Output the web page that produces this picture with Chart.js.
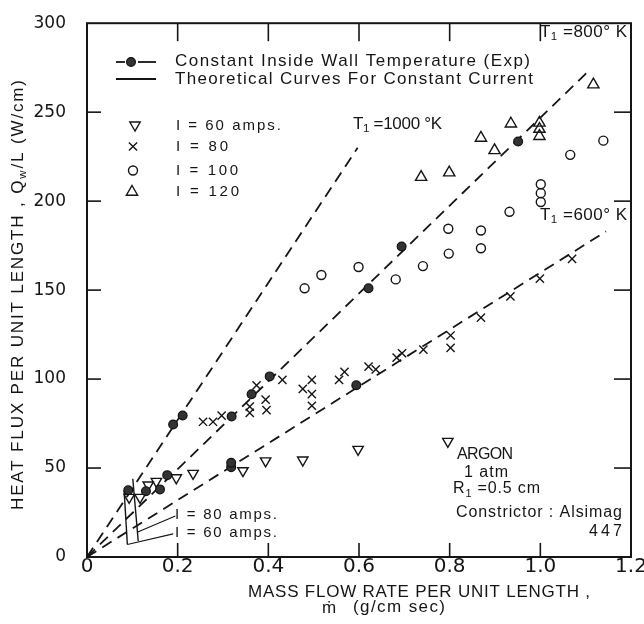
<!DOCTYPE html>
<html>
<head>
<meta charset="utf-8">
<script src="https://cdn.jsdelivr.net/npm/chart.js@4.4.1/dist/chart.umd.min.js"></script>
<style>
  html, body { margin: 0; padding: 0; background: #fff; }
  canvas { display: block; }
</style>
</head>
<body>
<canvas id="chart" width="644" height="624"></canvas>
<script>
// Heat flux per unit length (W/cm) against mass flow rate per unit length (g/cm sec)

// Constant inside wall temperature, experimental (filled circles)
const wallTempExp = [
  [0.091, 37.5], [0.130, 37], [0.161, 38], [0.177, 46], [0.190, 74.5], [0.211, 79.5],
  [0.319, 79], [0.318, 50.5], [0.318, 53], [0.363, 91.5], [0.403, 101.5],
  [0.594, 96.5], [0.621, 151], [0.694, 174.5], [0.951, 233.5]
];
// I = 60 amps
const amps60 = [
  [0.093, 33.5], [0.117, 33.5], [0.135, 40.5], [0.153, 42.5], [0.197, 44.5], [0.234, 47],
  [0.344, 48.5], [0.394, 54], [0.476, 54.5], [0.598, 60.5], [0.796, 65]
];
// I = 80 amps
const amps80 = [
  [0.256, 76], [0.278, 76], [0.297, 79.5], [0.359, 84.5], [0.359, 81], [0.374, 96.5],
  [0.394, 88.5], [0.396, 82.5], [0.431, 99.5], [0.476, 94.5], [0.496, 99.5], [0.496, 91.5],
  [0.496, 85], [0.556, 99.5], [0.568, 104], [0.621, 107], [0.637, 105.5], [0.683, 112],
  [0.695, 114.5], [0.742, 116.5], [0.802, 124.5], [0.802, 117.5], [0.869, 134.5],
  [0.934, 146.5], [0.999, 156.5], [1.070, 167.5]
];
// I = 100 amps
const amps100 = [
  [0.480, 151], [0.517, 158.5], [0.599, 163], [0.681, 156], [0.741, 163.5], [0.797, 184.5],
  [0.798, 170.5], [0.869, 183.5], [0.869, 173.5], [0.932, 194], [1.001, 209.5],
  [1.001, 204.5], [1.001, 199.5], [1.066, 226], [1.139, 234]
];
// I = 120 amps
const amps120 = [
  [0.737, 213.5], [0.799, 216], [0.869, 235.5], [0.899, 228.5], [0.935, 243.5],
  [0.998, 244], [0.998, 240.5], [0.998, 236.5], [1.117, 265.5]
];

// Constant wall temperature lines through the origin
const lineT1000 = [[0, 0], [0.597, 230]];
const lineT800 = [[0, 0], [1.11, 274]];
const lineT600 = [[0, 0], [1.145, 183]];

// Theoretical constant-current curves and the leaders to their labels
const curve60 = [[0.082, 37], [0.089, 7]];
const curve80 = [[0.101, 44], [0.113, 9]];
const leader80 = [[0.195, 23], [0.112, 14]];
const leader60 = [[0.190, 13], [0.089, 7]];

const xTickLabels = ['0', '0.2', '0.4', '0.6', '0.8', '1.0', '1.2'];
const yTickLabels = ['0', '50', '100', '150', '200', '250', '300'];

const INK = '#151515';
const TEXT_FONT = '"Liberation Sans", Arial, sans-serif';
const NUM_FONT = '"DejaVu Sans", sans-serif';

const pts = arr => arr.map(([x, y]) => ({ x, y }));

function lineSet(arr, dash, width) {
  return {
    data: pts(arr), showLine: true, borderColor: INK, borderWidth: width,
    borderDash: dash, pointRadius: 0, pointHoverRadius: 0, fill: false, tension: 0, order: 2
  };
}
function markSet(arr, style) {
  return Object.assign({
    data: pts(arr), showLine: false, borderColor: INK,
    backgroundColor: 'rgba(0,0,0,0)', order: 1
  }, style);
}

const styleFilled = { pointStyle: 'circle', pointRadius: 4.4, pointBorderWidth: 1.2, backgroundColor: '#333', borderColor: '#111' };
const styleDown = { pointStyle: 'triangle', pointRotation: 180, pointRadius: 6, pointBorderWidth: 1.4 };
const styleCross = { pointStyle: 'crossRot', pointRadius: 5.8, pointBorderWidth: 1.4 };
const styleRing = { pointStyle: 'circle', pointRadius: 4.5, pointBorderWidth: 1.4 };
const styleUp = { pointStyle: 'triangle', pointRadius: 6.5, pointBorderWidth: 1.4 };

// Writes a run of text pieces ([string, isSubscript]) stretched to a given width
function drawText(ctx, parts, x, y, opt) {
  const size = opt.size;
  const family = opt.family || TEXT_FONT;
  ctx.save();
  ctx.fillStyle = INK;
  ctx.textBaseline = 'middle';
  ctx.textAlign = 'left';
  ctx.letterSpacing = '0px';
  const segs = parts.map(([t, sub]) => {
    const fs = sub ? size * 0.68 : size;
    ctx.font = fs + 'px ' + family;
    return { t, sub, fs, w: ctx.measureText(t).width, n: Array.from(t).length };
  });
  const natural = segs.reduce((a, s) => a + s.w, 0);
  const chars = segs.reduce((a, s) => a + s.n, 0);
  let spacing = 0;
  if (opt.width) spacing = Math.max(-1.5, (opt.width - natural) / Math.max(1, chars - 1));
  const total = natural + spacing * (chars - 1);
  let cx = opt.align === 'right' ? x - total : (opt.align === 'center' ? x - total / 2 : x);
  for (const s of segs) {
    ctx.font = s.fs + 'px ' + family;
    ctx.letterSpacing = spacing + 'px';
    ctx.fillText(s.t, cx, s.sub ? y + size * 0.3 : y);
    cx += s.w + spacing * s.n;
  }
  ctx.restore();
}

function symbol(ctx, style, x, y) {
  ctx.save();
  ctx.strokeStyle = style.borderColor || INK;
  ctx.fillStyle = style.backgroundColor || 'rgba(0,0,0,0)';
  ctx.lineWidth = style.pointBorderWidth;
  Chart.helpers.drawPoint(ctx, {
    pointStyle: style.pointStyle, radius: style.pointRadius,
    rotation: style.pointRotation || 0, borderWidth: style.pointBorderWidth
  }, x, y);
  ctx.restore();
}

function seg(ctx, x1, y1, x2, y2) {
  ctx.beginPath();
  ctx.moveTo(x1, y1);
  ctx.lineTo(x2, y2);
  ctx.stroke();
}

// Frame, inward ticks, key and notes
const decorations = {
  id: 'decorations',
  afterDraw(chart) {
    const ctx = chart.ctx;
    const a = chart.chartArea;
    const xs = chart.scales.x;
    const ys = chart.scales.y;
    ctx.save();
    ctx.strokeStyle = INK;
    ctx.lineWidth = 2;
    ctx.strokeRect(a.left, a.top, a.right - a.left, a.bottom - a.top);

    ctx.lineWidth = 1.6;
    xs.ticks.forEach(t => {
      if (t.value <= 1e-9 || t.value >= xs.max - 1e-9) return;
      const px = xs.getPixelForValue(t.value);
      seg(ctx, px, a.bottom, px, a.bottom - 14);
      seg(ctx, px, a.top, px, a.top + 18);
    });
    ys.ticks.forEach(t => {
      if (t.value <= 1e-9 || t.value >= ys.max - 1e-9) return;
      const py = ys.getPixelForValue(t.value);
      seg(ctx, a.left, py, a.left + 14, py);
      seg(ctx, a.right, py, a.right - 17, py);
    });

    // key
    ctx.lineWidth = 1.8;
    seg(ctx, 116, 62, 125, 62);
    seg(ctx, 138, 62, 156, 62);
    symbol(ctx, styleFilled, 131, 62);
    seg(ctx, 116, 79, 156, 79);
    drawText(ctx, [['Constant Inside Wall Temperature (Exp)', 0]], 175, 61, { size: 17, width: 355 });
    drawText(ctx, [['Theoretical Curves For Constant Current', 0]], 175, 79, { size: 17, width: 358 });

    symbol(ctx, styleDown, 135, 125);
    symbol(ctx, styleCross, 133, 146.5);
    symbol(ctx, styleRing, 133, 170.5);
    symbol(ctx, styleUp, 132, 192);
    drawText(ctx, [['I = 60 amps.', 0]], 176, 126, { size: 15, width: 105 });
    drawText(ctx, [['I = 80', 0]], 176, 147, { size: 15, width: 52 });
    drawText(ctx, [['I = 100', 0]], 176, 171, { size: 15, width: 62 });
    drawText(ctx, [['I = 120', 0]], 176, 192, { size: 15, width: 63 });

    // temperature labels
    drawText(ctx, [['T', 0], ['1', 1], [' =800° K', 0]], 540, 32, { size: 17, width: 87 });
    drawText(ctx, [['T', 0], ['1', 1], [' =1000 °K', 0]], 353, 124, { size: 17, width: 89 });
    drawText(ctx, [['T', 0], ['1', 1], [' =600° K', 0]], 540, 215, { size: 17, width: 87 });

    // current labels near the origin
    drawText(ctx, [['I = 80 amps.', 0]], 175, 515, { size: 15, width: 102 });
    drawText(ctx, [['I = 60 amps.', 0]], 175, 533, { size: 15, width: 102 });

    // conditions
    drawText(ctx, [['ARGON', 0]], 457, 455, { size: 16, width: 56 });
    drawText(ctx, [['1 atm', 0]], 464, 473, { size: 16, width: 44 });
    drawText(ctx, [['R', 0], ['1', 1], [' =0.5 cm', 0]], 453, 489, { size: 16, width: 87 });
    drawText(ctx, [['Constrictor : Alsimag', 0]], 456, 513, { size: 16, width: 166 });
    drawText(ctx, [['447', 0]], 622, 532, { size: 16, width: 33, align: 'right' });

    // axis titles
    drawText(ctx, [['MASS FLOW RATE PER UNIT LENGTH ,', 0]], 248, 592, { size: 17, width: 342 });
    drawText(ctx, [['ṁ', 0]], 322, 608, { size: 17 });
    drawText(ctx, [['(g/cm sec)', 0]], 353, 607, { size: 17, width: 92 });

    ctx.save();
    ctx.translate(18, 510);
    ctx.rotate(-Math.PI / 2);
    drawText(ctx, [['HEAT FLUX PER UNIT LENGTH , Q', 0], ['w', 1], ['/L (W/cm)', 0]], 0, 0, { size: 17, width: 430 });
    ctx.restore();

    ctx.restore();
  }
};

new Chart(document.getElementById('chart'), {
  type: 'scatter',
  data: {
    datasets: [
      markSet(wallTempExp, styleFilled),
      markSet(amps60, styleDown),
      markSet(amps80, styleCross),
      markSet(amps100, styleRing),
      markSet(amps120, styleUp),
      lineSet(lineT1000, [11, 7], 1.8),
      lineSet(lineT800, [11, 7], 1.8),
      lineSet(lineT600, [11, 7], 1.8),
      lineSet(curve60, [], 1.4),
      lineSet(curve80, [], 1.4),
      lineSet(leader80, [], 1.1),
      lineSet(leader60, [], 1.1)
    ]
  },
  options: {
    responsive: false,
    animation: false,
    devicePixelRatio: 1,
    layout: { padding: { top: 15, right: 13, left: 0, bottom: 0 } },
    plugins: { legend: { display: false }, tooltip: { enabled: false } },
    scales: {
      x: {
        type: 'linear', min: 0, max: 1.2,
        grid: { display: false }, border: { display: false },
        ticks: {
          stepSize: 0.2, autoSkip: false, maxRotation: 0, padding: -10, color: INK,
          font: { family: NUM_FONT, size: 20 },
          callback: (v, i) => xTickLabels[i]
        },
        afterFit: s => { s.height = 67; s.paddingLeft = 0; s.paddingRight = 0; }
      },
      y: {
        type: 'linear', min: 0, max: 300,
        grid: { display: false }, border: { display: false },
        ticks: {
          stepSize: 50, autoSkip: false, padding: 13, color: INK,
          font: { family: NUM_FONT, size: 17 },
          callback: (v, i) => yTickLabels[i]
        },
        afterFit: s => { s.width = 87; }
      }
    }
  },
  plugins: [decorations]
});
</script>
</body>
</html>
